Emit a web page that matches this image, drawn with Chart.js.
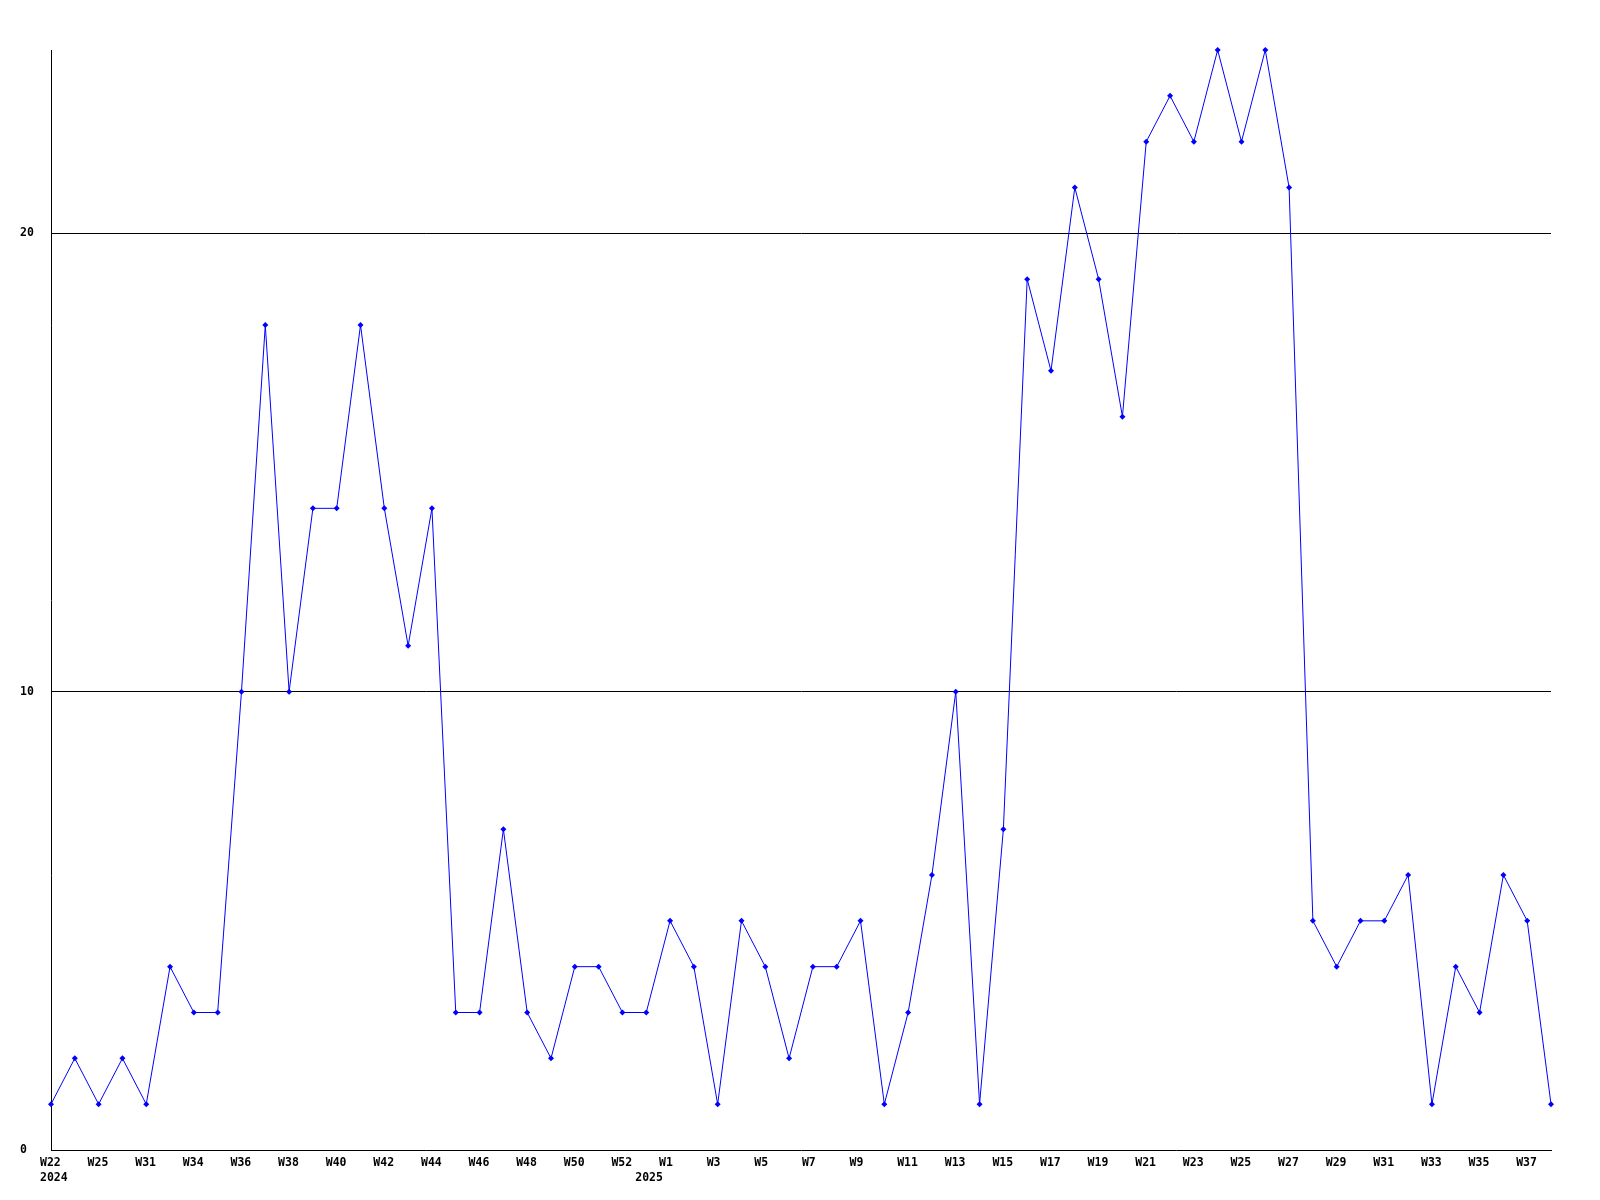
<!DOCTYPE html>
<html>
<head>
<meta charset="utf-8">
<script src="https://cdn.jsdelivr.net/npm/chart.js@4"></script>
<style>
    body { margin: 0; background: #ffffff; }
    #wrap { width: 1600px; height: 1200px; }
</style>
</head>
<body>
<div id="wrap"><canvas id="weeklyChart"></canvas></div>
<script>
// week labels (only every second one is printed on the axis)
var weeks = [
    'W22', 'W23', 'W25', 'W28', 'W31', 'W32', 'W34', 'W35', 'W36', 'W37',
    'W38', 'W39', 'W40', 'W41', 'W42', 'W43', 'W44', 'W45', 'W46', 'W47',
    'W48', 'W49', 'W50', 'W51', 'W52', 'W53', 'W1', 'W2', 'W3', 'W4',
    'W5', 'W6', 'W7', 'W8', 'W9', 'W10', 'W11', 'W12', 'W13', 'W14',
    'W15', 'W16', 'W17', 'W18', 'W19', 'W20', 'W21', 'W22', 'W23', 'W24',
    'W25', 'W26', 'W27', 'W28', 'W29', 'W30', 'W31', 'W32', 'W33', 'W34',
    'W35', 'W36', 'W37', 'W38'
];
var yearStarts = [0, 25];
var years = ['2024', '2025'];

var counts = [
    1, 2, 1, 2, 1, 4, 3, 3, 10, 18,
    10, 14, 14, 18, 14, 11, 14, 3, 3, 7,
    3, 2, 4, 4, 3, 3, 5, 4, 1, 5,
    4, 2, 4, 4, 5, 1, 3, 6, 10, 1,
    7, 19, 17, 21, 19, 16, 22, 23, 22, 24,
    22, 24, 21, 5, 4, 5, 5, 6, 1, 4,
    3, 6, 5, 1
];

var yTicks = [0, 10, 20];

var tickFont = { family: 'DejaVu Sans Mono', size: 11.5, weight: 'bold', lineHeight: '15px' };

function weekTick(value, index) {
    var y = yearStarts.indexOf(index);
    var yearText = y >= 0 ? years[y] : '';
    if (index % 2 === 0) {
        return yearText ? [weeks[index], yearText] : weeks[index];
    }
    return yearText ? ['', yearText] : '';
}

var ctx = document.getElementById('weeklyChart').getContext('2d');
var myLineChart = new Chart(ctx, {
    type: 'line',
    data: {
        labels: weeks,
        datasets: [{
            data: counts,
            borderColor: '#0000ff',
            backgroundColor: '#0000ff',
            borderWidth: 1,
            pointStyle: 'rectRot',
            pointRadius: 3,
            pointBorderWidth: 0,
            tension: 0,
            clip: false
        }]
    },
    options: {
        responsive: true,
        maintainAspectRatio: false,
        animation: false,
        layout: {
            padding: { left: 20, right: 49, top: 50, bottom: 0 }
        },
        plugins: {
            legend: { display: false },
            tooltip: { enabled: false }
        },
        scales: {
            x: {
                type: 'category',
                offset: false,
                afterFit: function (scale) { scale.height = 50; },
                grid: { display: false, drawTicks: false },
                border: { display: true, color: '#000000', width: 1 },
                ticks: {
                    autoSkip: false,
                    maxRotation: 0,
                    minRotation: 0,
                    align: 'start',
                    labelOffset: -11,
                    padding: 6,
                    color: '#000000',
                    font: tickFont,
                    callback: weekTick
                }
            },
            y: {
                min: 0,
                max: 24,
                afterFit: function (scale) { scale.width = 31; },
                afterBuildTicks: function (scale) {
                    scale.ticks = yTicks.map(function (v) { return { value: v }; });
                },
                grid: {
                    drawTicks: false,
                    color: function (c) { return c.tick && c.tick.value === 0 ? 'rgba(0,0,0,0)' : '#000000'; },
                    lineWidth: 1
                },
                border: { display: true, color: '#000000', width: 1 },
                ticks: {
                    crossAlign: 'far',
                    padding: 0,
                    color: '#000000',
                    font: tickFont
                }
            }
        }
    }
});
</script>
</body>
</html>
